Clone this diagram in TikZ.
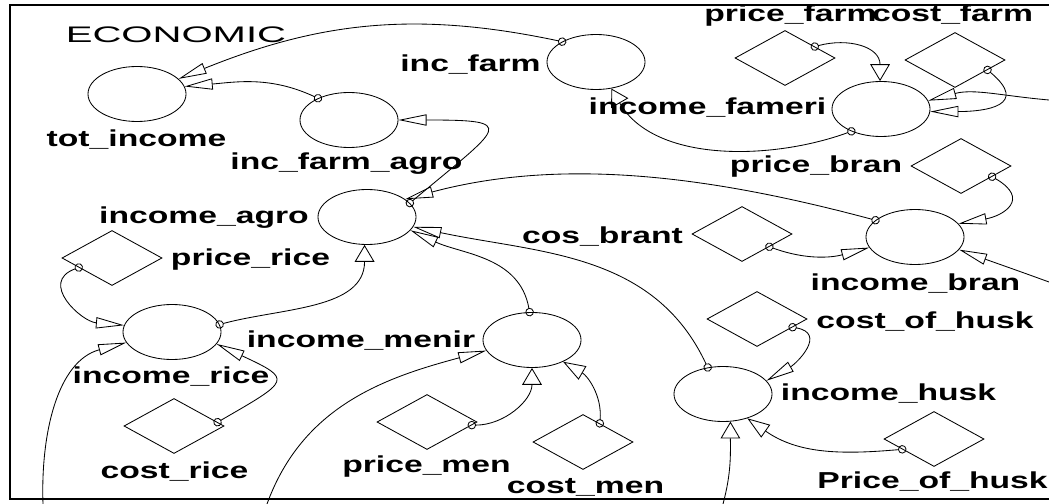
\documentclass[tikz,border=0pt]{standalone}
\usepackage{fontspec}
\newfontfamily\labfont{Liberation Sans}[FakeStretch=1.46]
\newfontfamily\titlefont{Liberation Sans}[FakeStretch=1.78]
\usetikzlibrary{shapes.geometric,arrows.meta}

\tikzset{
  auxvar/.style={draw, ellipse, line width=0.6pt, inner sep=0pt, minimum width=2.45cm, minimum height=1.375cm},
  constvar/.style={draw, diamond, line width=0.6pt, inner sep=0pt, minimum width=2.5cm, minimum height=1.375cm},
  lab/.style={inner sep=0pt, anchor=base, font=\labfont\bfseries\fontsize{16.4}{18}\selectfont},
  link/.style={line width=0.6pt, shorten <=-3pt},
  hlink/.style={link, {Circle[open,length=6pt]}-{Triangle[open,length=20pt,width=8pt]}},
  vlink/.style={link, {Circle[open,length=6pt]}-{Triangle[open,length=12pt,width=14pt]}},
  dlink/.style={link, {Circle[open,length=6pt]}-{Triangle[open,length=16pt,width=11pt]}},
  hin/.style={line width=0.6pt, -{Triangle[open,length=20pt,width=8pt]}},
  vin/.style={line width=0.6pt, -{Triangle[open,length=12pt,width=14pt]}}
}

\begin{document}
\begin{tikzpicture}[x=0.025cm, y=-0.025cm]
\useasboundingbox (0,0) rectangle (1049,504);
\draw [line width=1.8pt] (1049,5) -- (10,5) -- (10,499) -- (1049,499);

% auxiliaries
\node[auxvar] (tot) at (137,94) {};
\node[auxvar] (incfarm) at (596,62) {};
\node[auxvar] (farmagro) at (349,120) {};
\node[auxvar] (agro) at (367,217) {};
\node[auxvar] (fameri) at (881,109) {};
\node[auxvar] (bran) at (915,237) {};
\node[auxvar] (rice) at (172,332) {};
\node[auxvar] (menir) at (532,340) {};
\node[auxvar] (husk) at (723,394) {};

% constants
\node[constvar] (pfarm) at (785,58) {};
\node[constvar] (cfarm) at (955,60) {};
\node[constvar] (pbran) at (961,166) {};
\node[constvar] (cbrant) at (742,234) {};
\node[constvar] (price) at (112,258) {};
\node[constvar] (crice) at (174,426) {};
\node[constvar] (pmen) at (427,422) {};
\node[constvar] (cmen) at (583,442) {};
\node[constvar] (chusk) at (757,319) {};
\node[constvar] (phusk) at (934,439) {};

% labels
\node[inner sep=0pt, anchor=base, font=\titlefont\fontsize{16}{18}\selectfont] (title) at (176,43) {ECONOMIC};
\node[lab] (totlab) at (136.5,147) {tot\_income};
\node[lab] (incfarmlab) at (470.5,72) {inc\_farm};
\node[lab] (farmagrolab) at (346.5,170) {inc\_farm\_agro};
\node[lab] (agrolab) at (204,223) {income\_agro};
\node[lab] (famerilab) at (707.5,115) {income\_fameri};
\node[lab] (pfarmlab) at (790.5,22) {price\_farm};
\node[lab] (cfarmlab) at (952.5,22) {cost\_farm};
\node[lab] (pbranlab) at (816,173) {price\_bran};
\node[lab] (cbrantlab) at (602.5,243) {cos\_brant};
\node[lab] (branlab) at (915.5,290) {income\_bran};
\node[lab] (pricelab) at (250.5,265) {price\_rice};
\node[lab] (ricelab) at (171,383) {income\_rice};
\node[lab] (cricelab) at (174.5,478) {cost\_rice};
\node[lab] (menirlab) at (361,347) {income\_menir};
\node[lab] (pmenlab) at (426.5,472) {price\_men};
\node[lab] (cmenlab) at (585.5,493) {cost\_men};
\node[lab] (chusklab) at (925,328) {cost\_of\_husk};
\node[lab] (husklab) at (888.5,400) {income\_husk};
\node[lab] (phusklab) at (932.5,488) {Price\_of\_husk};

% free ends at the border
\coordinate (fameriin) at (1049,100);
\coordinate (branin) at (1049,282);
\coordinate (ricein) at (43,504);
\coordinate (menirin) at (267,504);
\coordinate (huskin) at (723,504);

% links
\draw[hlink] (incfarm.149) to[out=168,in=22] (tot.20);
\draw[hlink] (farmagro.145) to[out=155,in=5] (tot.9);
\draw[hlink] (agro.18) to[out=40,in=0,looseness=3.7] (farmagro.0);
\draw[vlink] (fameri.217) to[out=200,in=-60,looseness=0.9] (incfarm.300);
\draw[vlink] (pfarm.21) to[out=15,in=90,looseness=1.2] (fameri.92);
\draw[hlink] (cfarm.343) to[out=-40,in=0,looseness=2] (fameri.357);
\draw[hin] (fameriin) to[out=175,in=15] (fameri.10);
\draw[hlink] (pbran.341) to[out=-30,in=10,looseness=2] (bran.17);
\draw[hlink] (cbrant.335) to[out=-20,in=195] (bran.193);
\draw[hin] (branin) to[out=160,in=-20] (bran.344);
\draw[hlink] (bran.157) to[out=165,in=15,looseness=0.9] (agro.25);
\draw[hlink] (husk.120) to[out=115,in=-12] (agro.348);
\draw[hlink] (menir.95) to[out=100,in=-25] (agro.343);
\draw[vlink] (rice.9) to[out=15,in=-90] (agro.265);
\draw[hlink] (price.196) to[out=200,in=175,looseness=1.5] (rice.172);
\draw[hlink] (crice.5) to[out=30,in=-25,looseness=2.75] (rice.345);
\draw[hin] (ricein) to[out=92,in=195] (rice.193);
\draw[hin] (menirin) to[out=70,in=195] (menir.193);
\draw[vlink] (pmen.356) to[out=0,in=-90] (menir.270);
\draw[dlink] (cmen.48) to[out=85,in=-30] (menir.325);
\draw[hlink] (chusk.347) to[out=-10,in=30,looseness=1.5] (husk.17);
\draw[dlink] (phusk.198) to[out=185,in=-35] (husk.315);
\draw[vin] (huskin) to[out=75,in=-90] (husk.285);
\end{tikzpicture}
\end{document}
